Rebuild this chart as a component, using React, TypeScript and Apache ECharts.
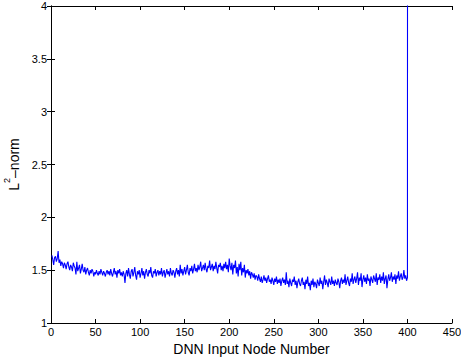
import React, { useEffect, useRef } from "react";
import * as echarts from "echarts";

const xTicks = [0, 50, 100, 150, 200, 250, 300, 350, 400, 450];
const yTicks = [1, 1.5, 2, 2.5, 3, 3.5, 4];

// L2-norm of each DNN input node (nodes 1..400)
const norms1: number[] = [
  1.64, 1.60, 1.55, 1.62, 1.63, 1.58, 1.61, 1.68, 1.57, 1.60, 1.54, 1.58, 1.56, 1.52, 1.57, 1.55, 1.51, 1.56, 1.58, 1.53,
  1.50, 1.55, 1.53, 1.49, 1.57, 1.54, 1.52, 1.46, 1.58, 1.49, 1.52, 1.55, 1.47, 1.51, 1.56, 1.50, 1.48, 1.53, 1.46, 1.50,
  1.52, 1.48, 1.45, 1.50, 1.47, 1.51, 1.49, 1.44, 1.48, 1.46, 1.50, 1.47, 1.45, 1.49, 1.46, 1.51, 1.48, 1.45, 1.49, 1.47,
  1.44, 1.48, 1.50, 1.46, 1.49, 1.45, 1.51, 1.47, 1.44, 1.48, 1.52, 1.46, 1.49, 1.43, 1.50, 1.47, 1.51, 1.45, 1.48, 1.44,
  1.49, 1.46, 1.38, 1.47, 1.50, 1.44, 1.52, 1.46, 1.42, 1.49, 1.51, 1.44, 1.48, 1.53, 1.45, 1.41, 1.49, 1.46, 1.50, 1.43,
];
const norms2: number[] = [
  1.47, 1.52, 1.45, 1.49, 1.42, 1.48, 1.51, 1.46, 1.44, 1.50, 1.47, 1.53, 1.45, 1.43, 1.49, 1.47, 1.51, 1.44, 1.48, 1.50,
  1.45, 1.49, 1.46, 1.52, 1.44, 1.48, 1.50, 1.43, 1.47, 1.51, 1.46, 1.49, 1.44, 1.52, 1.47, 1.45, 1.50, 1.48, 1.43, 1.49,
  1.52, 1.46, 1.50, 1.44, 1.55, 1.47, 1.51, 1.45, 1.49, 1.53, 1.46, 1.50, 1.55, 1.48, 1.45, 1.52, 1.49, 1.54, 1.47, 1.51,
  1.56, 1.49, 1.52, 1.48, 1.55, 1.50, 1.53, 1.58, 1.49, 1.52, 1.55, 1.50, 1.57, 1.51, 1.48, 1.54, 1.52, 1.59, 1.50, 1.53,
  1.56, 1.49, 1.54, 1.51, 1.58, 1.52, 1.47, 1.55, 1.53, 1.57, 1.50, 1.54, 1.49, 1.56, 1.52, 1.58, 1.51, 1.55, 1.48, 1.61,
];
const norms3: number[] = [
  1.54, 1.50, 1.57, 1.46, 1.55, 1.52, 1.59, 1.47, 1.53, 1.44, 1.56, 1.50, 1.58, 1.45, 1.52, 1.48, 1.55, 1.43, 1.50, 1.47,
  1.51, 1.45, 1.49, 1.42, 1.48, 1.46, 1.43, 1.47, 1.41, 1.45, 1.44, 1.40, 1.46, 1.42, 1.39, 1.44, 1.38, 1.41, 1.45, 1.40,
  1.43, 1.38, 1.42, 1.45, 1.39, 1.41, 1.37, 1.43, 1.40, 1.36, 1.42, 1.39, 1.44, 1.37, 1.41, 1.38, 1.42, 1.35, 1.40, 1.43,
  1.38, 1.41, 1.36, 1.48, 1.37, 1.40, 1.34, 1.42, 1.38, 1.35, 1.41, 1.39, 1.44, 1.36, 1.40, 1.33, 1.39, 1.42, 1.37, 1.35,
  1.40, 1.43, 1.36, 1.39, 1.32, 1.41, 1.37, 1.44, 1.35, 1.38, 1.31, 1.40, 1.36, 1.42, 1.34, 1.39, 1.37, 1.33, 1.41, 1.38,
];
const norms4: number[] = [
  1.35, 1.43, 1.37, 1.40, 1.32, 1.39, 1.45, 1.36, 1.41, 1.38, 1.34, 1.42, 1.39, 1.36, 1.44, 1.37, 1.40, 1.35, 1.41, 1.38,
  1.36, 1.42, 1.39, 1.33, 1.40, 1.43, 1.37, 1.41, 1.38, 1.46, 1.36, 1.40, 1.44, 1.38, 1.35, 1.42, 1.39, 1.47, 1.37, 1.41,
  1.44, 1.38, 1.42, 1.48, 1.36, 1.43, 1.40, 1.47, 1.34, 1.41, 1.45, 1.39, 1.43, 1.37, 1.46, 1.40, 1.42, 1.35, 1.44, 1.41,
  1.38, 1.45, 1.42, 1.39, 1.47, 1.36, 1.43, 1.41, 1.46, 1.38, 1.44, 1.40, 1.48, 1.37, 1.42, 1.45, 1.33, 1.41, 1.46, 1.40,
  1.43, 1.48, 1.39, 1.44, 1.41, 1.46, 1.37, 1.45, 1.42, 1.49, 1.40, 1.44, 1.47, 1.41, 1.43, 1.50, 1.42, 1.45, 1.40, 1.43,
];
// nodes beyond 400 have a very large norm (off the chart)
const outlierNodes = [401, 402];
const outlierValues = [40, 40];

const FONT = "Liberation Sans, Arial, sans-serif";

export default function App() {
  const ref = useRef<HTMLDivElement>(null);
  useEffect(() => {
    const chart = echarts.init(ref.current!, undefined, { renderer: "svg" });
    const values = [...norms1, ...norms2, ...norms3, ...norms4];
    const data: [number, number][] = values.map((v, i) => [i + 1, v]);
    outlierNodes.forEach((n, i) => data.push([n, outlierValues[i]]));
    const axisLine = { show: true, lineStyle: { color: "#000", width: 1 } };
    const tick = { show: true, inside: true, length: 4, lineStyle: { color: "#000" } };
    chart.setOption({
      animation: false,
      backgroundColor: "#fff",
      grid: { left: 51, right: 9, top: 6, bottom: 37, containLabel: false, outerBoundsMode: "none" },
      xAxis: [
        {
          type: "value",
          min: xTicks[0],
          max: xTicks[xTicks.length - 1],
          interval: 50,
          axisLine,
          axisTick: tick,
          splitLine: { show: false },
          axisLabel: { color: "#000", fontFamily: FONT, fontSize: 11, margin: 3 },
          name: "DNN Input Node Number",
          nameLocation: "middle",
          nameGap: 18,
          nameTextStyle: { color: "#000", fontFamily: FONT, fontSize: 14 },
        },
        {
          type: "value",
          position: "top",
          min: xTicks[0],
          max: xTicks[xTicks.length - 1],
          interval: 50,
          axisLine,
          axisTick: tick,
          splitLine: { show: false },
          axisLabel: { show: false },
        },
      ],
      yAxis: [
        {
          type: "value",
          min: yTicks[0],
          max: yTicks[yTicks.length - 1],
          interval: 0.5,
          axisLine,
          axisTick: tick,
          splitLine: { show: false },
          axisLabel: { color: "#000", fontFamily: FONT, fontSize: 11, margin: 4 },
          name: "{b|L}{sup|2}{b|–norm}",
          nameLocation: "middle",
          nameRotate: 90,
          nameGap: 27,
          nameTextStyle: {
            color: "#000",
            fontFamily: FONT,
            fontSize: 14,
            rich: {
              b: { color: "#000", fontFamily: FONT, fontSize: 14, lineHeight: 18, verticalAlign: "bottom" },
              sup: { color: "#000", fontFamily: FONT, fontSize: 9, lineHeight: 18, verticalAlign: "top", padding: [0, 0, 6, 0] },
            },
          },
        },
        {
          type: "value",
          position: "right",
          min: yTicks[0],
          max: yTicks[yTicks.length - 1],
          interval: 0.5,
          axisLine,
          axisTick: tick,
          splitLine: { show: false },
          axisLabel: { show: false },
        },
      ],
      series: [
        {
          type: "line",
          data,
          showSymbol: false,
          symbol: "none",
          clip: true,
          lineStyle: { color: "#0000ff", width: 1.1 },
          itemStyle: { color: "#0000ff" },
        },
      ],
    });
    return () => chart.dispose();
  }, []);
  return <div ref={ref} style={{ width: 461, height: 360, position: "absolute", left: 0, top: 0 }} />;
}
